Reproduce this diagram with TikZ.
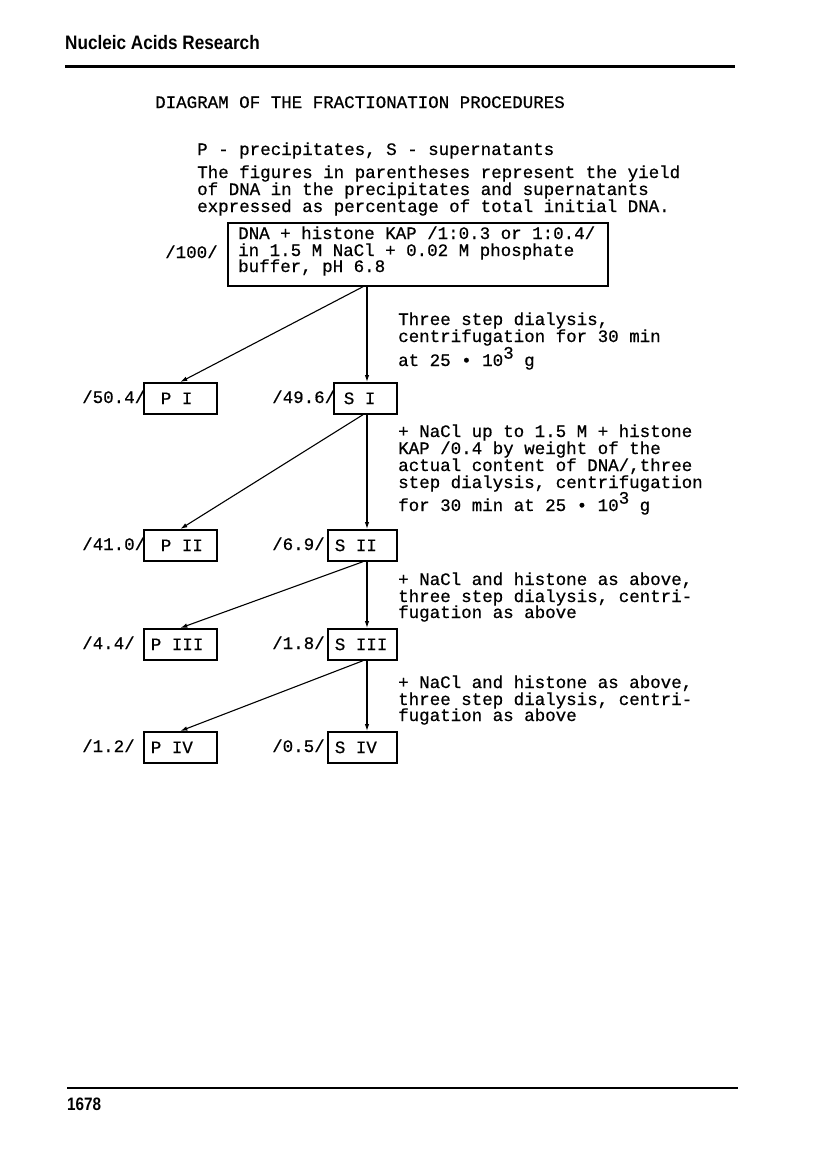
\documentclass[tikz,border=0pt]{standalone}
\usepackage{fontspec}
\setmainfont{Liberation Mono}[FakeBold=0.6]
\newfontfamily\hdrfont{Liberation Sans}
\usetikzlibrary{arrows.meta}
\newcommand{\twfont}{\fontsize{17.5}{17}\selectfont}
\begin{document}
\begin{tikzpicture}[x=1pt,y=-1pt,
  tw/.style={anchor=base west,inner sep=0pt,font=\twfont},
  boxbase/.style={draw,line width=1.7pt,anchor=north west,inner ysep=0pt,
    minimum height=31pt,font=\twfont},
  pbox/.style={boxbase,inner xsep=7pt},
  sbox/.style={boxbase,inner xsep=7pt},
  arr/.style={line width=1.1pt,-{Latex[length=7pt,width=4.5pt]}},
  rule/.style={line width=3pt},
]
\useasboundingbox[fill=white] (0,0) rectangle (816,1172);

% header
\node[anchor=base west,inner sep=0pt,font=\hdrfont\bfseries\fontsize{19.5}{20}\selectfont] (journal) at (65,50) {\scalebox{0.88}[1]{Nucleic Acids Research}};
\draw[rule] (65,67) -- (735,67);

% title and legend
\node[tw] (title) at (155,108) {DIAGRAM OF THE FRACTIONATION PROCEDURES};
\node[tw] (leg1) at (197,155) {P - precipitates, S - supernatants};
\node[tw] (leg2) at (197,178) {The figures in parentheses represent the yield};
\node[tw] (leg3) at (197,195) {of DNA in the precipitates and supernatants};
\node[tw] (leg4) at (197,212) {expressed as percentage of total initial DNA.};

% top box
\node[draw,line width=1.7pt,anchor=north west,inner sep=0pt,
  minimum width=380pt,minimum height=63pt] (top) at (227,222) {};
\node[tw] (top1) at (238,239) {DNA + histone KAP /1:0.3 or 1:0.4/};
\node[tw] (top2) at (238,256) {in 1.5 M NaCl + 0.02 M phosphate};
\node[tw] (top3) at (238,272) {buffer, pH 6.8};
\node[tw] (l100) at (165,258) {/100/};

% boxes
\node[pbox] (PI) at (143,382) {\makebox[59pt][l]{\hspace*{10pt}P I}};
\node[sbox,inner xsep=10pt] (SI) at (333,382) {\makebox[43pt][l]{S I}};
\node[pbox] (PII) at (143,529) {\makebox[59pt][l]{\hspace*{10pt}P II}};
\node[sbox] (SII) at (327,529) {\makebox[55pt][l]{S II}};
\node[pbox] (PIII) at (143,628) {\makebox[59pt][l]{P III}};
\node[sbox] (SIII) at (327,628) {\makebox[55pt][l]{S III}};
\node[pbox] (PIV) at (143,731) {\makebox[59pt][l]{P IV}};
\node[sbox] (SIV) at (327,731) {\makebox[55pt][l]{S IV}};

% yields
\node[tw] (yPI) at (82,403) {/50.4/};
\node[tw] (ySI) at (272,403) {/49.6/};
\node[tw] (yPII) at (82,550) {/41.0/};
\node[tw] (ySII) at (272,550) {/6.9/};
\node[tw] (yPIII) at (82,649) {/4.4/};
\node[tw] (ySIII) at (272,649) {/1.8/};
\node[tw] (yPIV) at (82,752) {/1.2/};
\node[tw] (ySIV) at (272,752) {/0.5/};

% step descriptions
\node[tw] (a1) at (398,325) {Three step dialysis,};
\node[tw] (a2) at (398,342) {centrifugation for 30 min};
\node[tw] (a3) at (398,366) {at 25 \textbullet{} 10\raisebox{0.42em}{3} g};
\node[tw] (b1) at (398,437) {+ NaCl up to 1.5 M + histone};
\node[tw] (b2) at (398,454) {KAP /0.4 by weight of the};
\node[tw] (b3) at (398,471) {actual content of DNA/,three};
\node[tw] (b4) at (398,488) {step dialysis, centrifugation};
\node[tw] (b5) at (398,511) {for 30 min at 25 \textbullet{} 10\raisebox{0.42em}{3} g};
\node[tw] (c1) at (398,585) {+ NaCl and histone as above,};
\node[tw] (c2) at (398,602) {three step dialysis, centri-};
\node[tw] (c3) at (398,618) {fugation as above};
\node[tw] (d1) at (398,688) {+ NaCl and histone as above,};
\node[tw] (d2) at (398,705) {three step dialysis, centri-};
\node[tw] (d3) at (398,721) {fugation as above};

% connectors
\coordinate (spine) at (367,0);
\coordinate (dsp) at (363,0);
\draw[arr] (top.south -| spine) -- (SI.north -| spine);
\draw[arr] (top.south -| dsp) -- (PI.north);
\draw[arr] (SI.south -| spine) -- (SII.north -| spine);
\draw[arr] (SI.south -| dsp) -- (PII.north);
\draw[arr] (SII.south -| spine) -- (SIII.north -| spine);
\draw[arr] (SII.south -| dsp) -- (PIII.north);
\draw[arr] (SIII.south -| spine) -- (SIV.north -| spine);
\draw[arr] (SIII.south -| dsp) -- (PIV.north);

% footer
\draw[line width=2.5pt] (67,1088) -- (738,1088);
\node[anchor=base west,inner sep=0pt,font=\hdrfont\bfseries\fontsize{18}{18}\selectfont] (page) at (67,1110) {\scalebox{0.85}[1]{1678}};
\end{tikzpicture}
\end{document}
